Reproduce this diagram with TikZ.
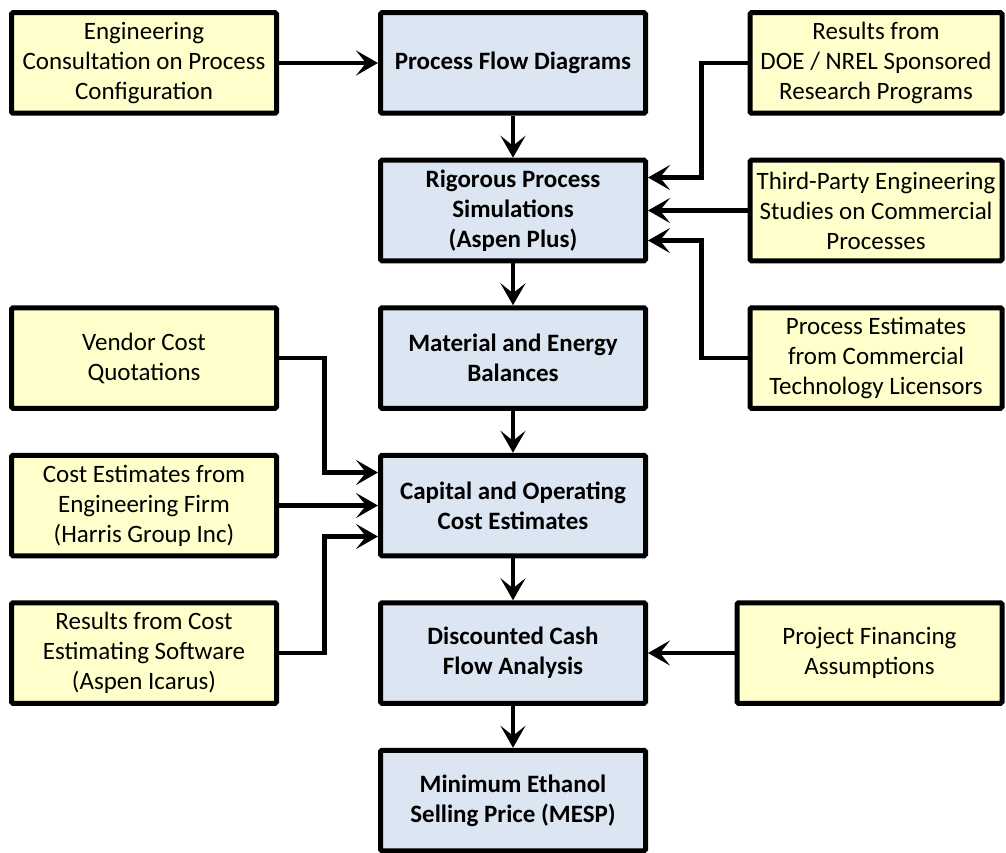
\documentclass[tikz,border=0pt]{standalone}
\usepackage{fontspec}
\setmainfont{Carlito}
\usetikzlibrary{arrows.meta,calc}
\definecolor{ylw}{RGB}{255,255,204}
\definecolor{blu}{RGB}{220,230,242}
\begin{document}
\begin{tikzpicture}[x=1pt,y=-1pt,
 box/.style={draw=black, line width=5pt, rounded corners=1.5pt, minimum height=100.5pt, align=center, inner sep=2pt, font=\fontsize{25}{30}\selectfont},
 inbox/.style={box, fill=ylw, minimum width=265pt},
 rbox/.style={box, fill=ylw, minimum width=252pt},
 mainbox/.style={box, fill=blu, minimum width=265pt, font=\fontsize{25}{30}\selectfont\bfseries},
 conn/.style={line width=4.8pt, -{Stealth[length=22pt,width=25pt,inset=10pt]}}]
\useasboundingbox (0,0) rectangle (1006,853);
% center column
\node[mainbox] (pfd) at (513,63) {Process Flow Diagrams};
\node[mainbox] (rig) at (513,210.5) {Rigorous Process\\Simulations\\(Aspen Plus)};
\node[mainbox] (mat) at (513,358) {Material and Energy\\Balances};
\node[mainbox] (cap) at (513,505.5) {Capital and Operating\\Cost Estimates};
\node[mainbox] (dcf) at (513,653) {Discounted Cash\\Flow Analysis};
\node[mainbox] (mesp) at (513,800.5) {Minimum Ethanol\\Selling Price (MESP)};
% left column
\node[inbox] (eng) at (144,63) {Engineering\\Consultation on Process\\Configuration};
\node[inbox] (ven) at (144,358) {Vendor Cost\\Quotations};
\node[inbox] (cef) at (144,505.5) {Cost Estimates from\\Engineering Firm\\(Harris Group Inc)};
\node[inbox] (rcs) at (144,653) {Results from Cost\\Estimating Software\\(Aspen Icarus)};
% right column
\node[rbox] (doe) at (876,63) {Results from\\DOE / NREL Sponsored\\Research Programs};
\node[rbox] (tp) at (876,210.5) {Third-Party Engineering\\Studies on Commercial\\Processes};
\node[rbox] (pe) at (876,358) {Process Estimates\\from Commercial\\Technology Licensors};
\node[inbox] (pf) at (869.5,653) {Project Financing\\Assumptions};
% connectors
\draw[conn] (eng.east) -- (pfd.west);
\draw[conn] (pfd.south) -- (rig.north);
\draw[conn] (rig.south) -- (mat.north);
\draw[conn] (mat.south) -- (cap.north);
\draw[conn] (cap.south) -- (dcf.north);
\draw[conn] (dcf.south) -- (mesp.north);
\draw[conn] (doe.west) -- ++(-46,0) |- ($(rig.east)+(0,-33)$);
\draw[conn] (tp.west) -- (rig.east);
\draw[conn] (pe.west) -- ++(-46,0) |- ($(rig.east)+(0,30)$);
\draw[conn] (ven.east) -- ++(45.5,0) |- ($(cap.west)+(0,-33)$);
\draw[conn] (cef.east) -- (cap.west);
\draw[conn] (rcs.east) -- ++(45.5,0) |- ($(cap.west)+(0,31)$);
\draw[conn] (pf.west) -- (dcf.east);
\end{tikzpicture}
\end{document}
